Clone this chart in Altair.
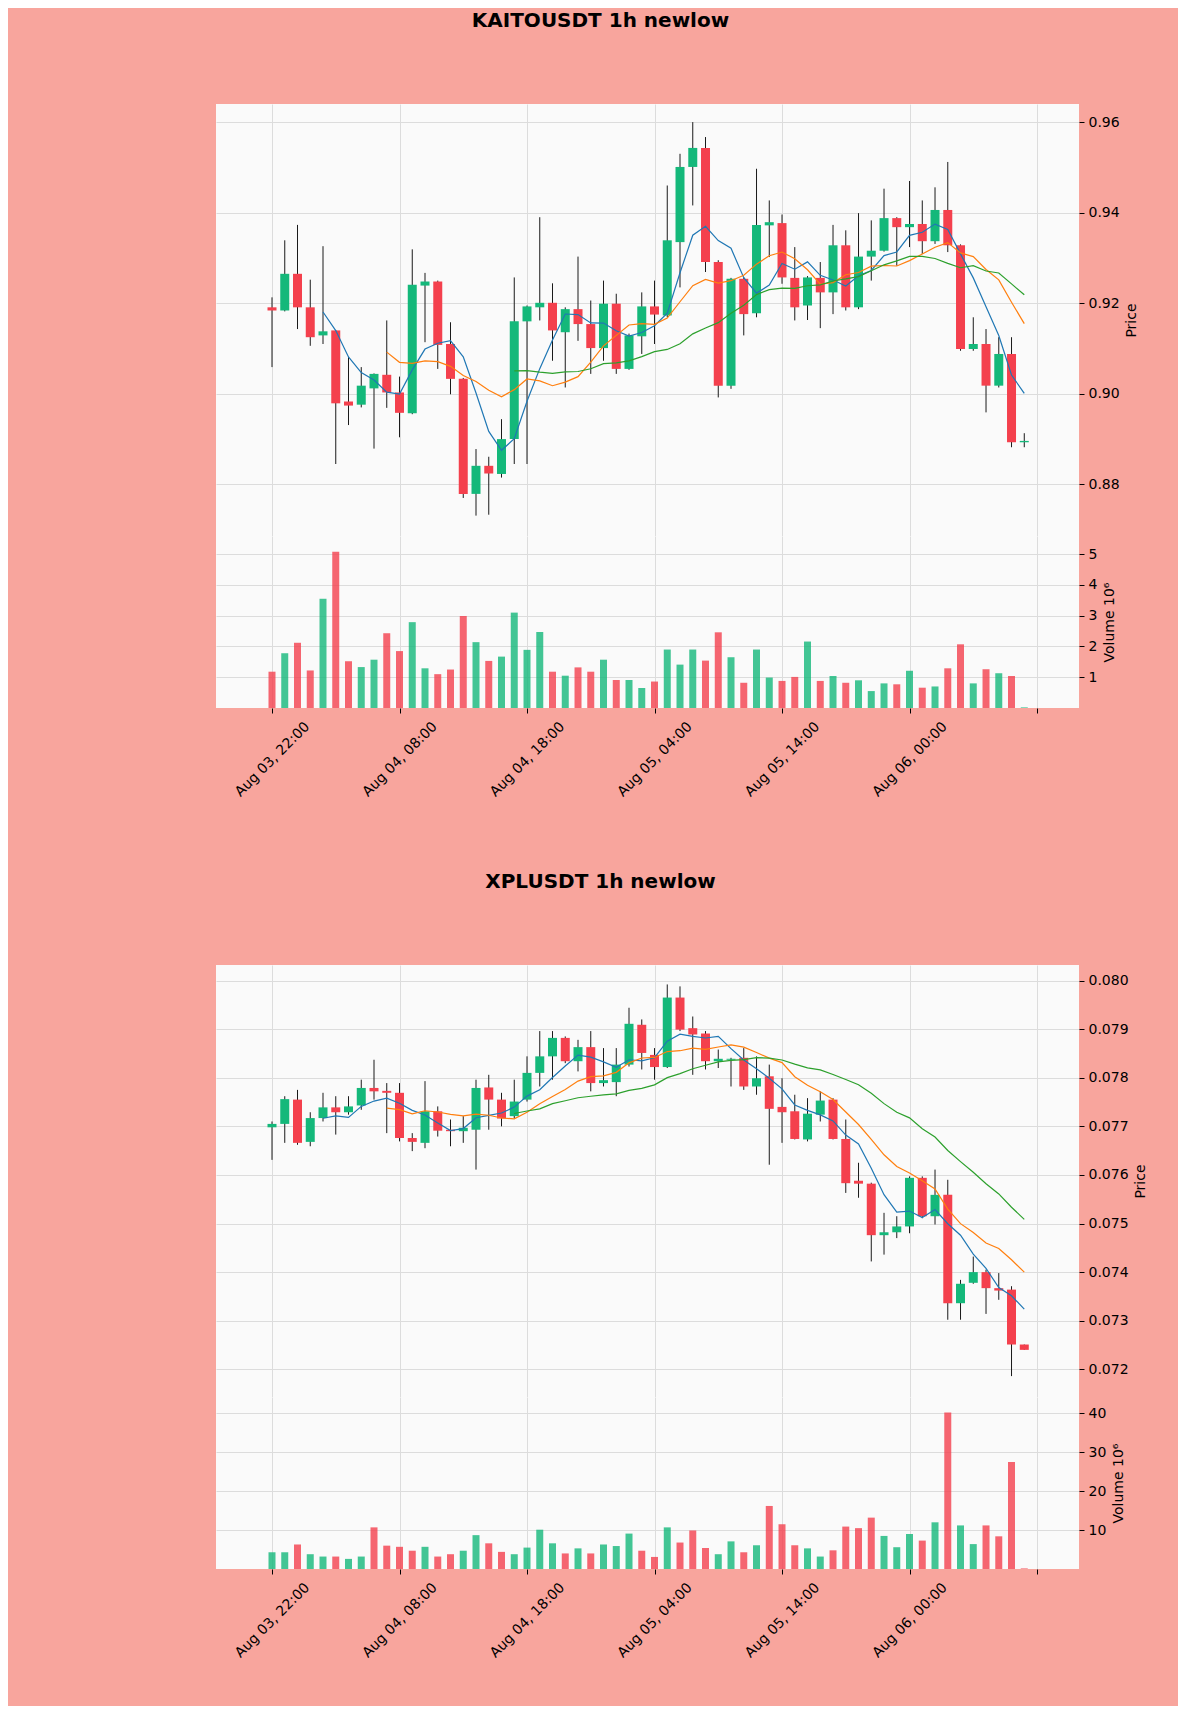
import altair as alt
import pandas as pd

# ---------------- data ----------------
tick_pos = [0, 10, 20, 30, 40, 50, 60]
tick_labels = ["Aug 03, 22:00", "Aug 04, 08:00", "Aug 04, 18:00",
               "Aug 05, 04:00", "Aug 05, 14:00", "Aug 06, 00:00", ""]

kaito_open = [0.9191, 0.9184, 0.9265, 0.9191, 0.9129, 0.9140, 0.8983, 0.8976, 0.9012, 0.9042,
              0.9003, 0.8957, 0.9239, 0.9248, 0.9110, 0.9033, 0.8779, 0.8841, 0.8823, 0.8900,
              0.9160, 0.9191, 0.9201, 0.9136, 0.9187, 0.9154, 0.9101, 0.9199, 0.9055, 0.9127,
              0.9193, 0.9173, 0.9335, 0.9501, 0.9543, 0.9291, 0.9018, 0.9254, 0.9178, 0.9372,
              0.9377, 0.9256, 0.9195, 0.9256, 0.9224, 0.9328, 0.9191, 0.9303, 0.9316, 0.9388,
              0.9368, 0.9375, 0.9337, 0.9406, 0.9328, 0.9099, 0.9110, 0.9018, 0.9088, 0.8893]
kaito_high = [0.9213, 0.9339, 0.9373, 0.9252, 0.9326, 0.9141, 0.9081, 0.9059, 0.9045, 0.9162,
              0.9038, 0.9319, 0.9267, 0.9250, 0.9158, 0.9035, 0.8878, 0.8861, 0.8944, 0.9257,
              0.9195, 0.9390, 0.9244, 0.9191, 0.9303, 0.9206, 0.9250, 0.9221, 0.9133, 0.9224,
              0.9250, 0.9460, 0.9530, 0.9600, 0.9567, 0.9295, 0.9256, 0.9257, 0.9497, 0.9427,
              0.9396, 0.9324, 0.9260, 0.9291, 0.9373, 0.9361, 0.9399, 0.9383, 0.9453, 0.9390,
              0.9470, 0.9427, 0.9456, 0.9512, 0.9330, 0.9169, 0.9143, 0.9125, 0.9125, 0.8913]
kaito_low = [0.9059, 0.9182, 0.9143, 0.9106, 0.9110, 0.8845, 0.8931, 0.8970, 0.8879, 0.8969,
             0.8904, 0.8955, 0.9114, 0.9055, 0.8999, 0.8770, 0.8731, 0.8733, 0.8815, 0.8845,
             0.8845, 0.9162, 0.9073, 0.9014, 0.9117, 0.9044, 0.9073, 0.9044, 0.9053, 0.9088,
             0.9110, 0.9169, 0.9235, 0.9416, 0.9269, 0.8992, 0.9011, 0.9129, 0.9169, 0.9302,
             0.9243, 0.9162, 0.9163, 0.9145, 0.9176, 0.9184, 0.9187, 0.9250, 0.9314, 0.9283,
             0.9324, 0.9309, 0.9331, 0.9313, 0.9095, 0.9095, 0.8959, 0.9014, 0.8882, 0.8882]
kaito_close = [0.9184, 0.9265, 0.9191, 0.9125, 0.9138, 0.8979, 0.8974, 0.9018, 0.9044, 0.9003,
               0.8958, 0.9241, 0.9248, 0.9108, 0.9033, 0.8779, 0.8841, 0.8824, 0.8900, 0.9160,
               0.9193, 0.9201, 0.9140, 0.9187, 0.9154, 0.9101, 0.9199, 0.9055, 0.9129, 0.9193,
               0.9175, 0.9339, 0.9501, 0.9543, 0.9291, 0.9018, 0.9254, 0.9176, 0.9373, 0.9379,
               0.9257, 0.9191, 0.9257, 0.9224, 0.9328, 0.9191, 0.9303, 0.9316, 0.9388, 0.9368,
               0.9375, 0.9337, 0.9406, 0.9328, 0.9099, 0.9110, 0.9018, 0.9088, 0.8893, 0.8896]
kaito_volume = [1.18, 1.78, 2.12, 1.22, 3.55, 5.08, 1.52, 1.33, 1.57, 2.43,
                1.85, 2.79, 1.29, 1.10, 1.25, 2.99, 2.14, 1.53, 1.67, 3.10,
                1.89, 2.47, 1.18, 1.05, 1.32, 1.18, 1.57, 0.91, 0.91, 0.65,
                0.86, 1.90, 1.41, 1.90, 1.54, 2.46, 1.65, 0.82, 1.90, 0.99,
                0.88, 1.01, 2.16, 0.88, 1.04, 0.82, 0.90, 0.55, 0.80, 0.77,
                1.21, 0.66, 0.70, 1.29, 2.07, 0.80, 1.26, 1.13, 1.04, 0.02]

xpl_open = [0.07698, 0.07705, 0.07755, 0.07668, 0.07717, 0.07739, 0.07729, 0.07743, 0.07779, 0.07773,
            0.07769, 0.07676, 0.07666, 0.07731, 0.07693, 0.07690, 0.07693, 0.07780, 0.07755, 0.07721,
            0.07755, 0.07810, 0.07844, 0.07882, 0.07834, 0.07863, 0.07789, 0.07791, 0.07827, 0.07909,
            0.07847, 0.07822, 0.07965, 0.07902, 0.07891, 0.07834, 0.07837, 0.07841, 0.07782, 0.07803,
            0.07740, 0.07731, 0.07673, 0.07724, 0.07755, 0.07674, 0.07588, 0.07582, 0.07476, 0.07482,
            0.07494, 0.07594, 0.07515, 0.07559, 0.07336, 0.07378, 0.07400, 0.07367, 0.07364, 0.07251]
xpl_high = [0.07710, 0.07762, 0.07775, 0.07729, 0.07769, 0.07762, 0.07762, 0.07796, 0.07837, 0.07789,
            0.07789, 0.07686, 0.07793, 0.07741, 0.07714, 0.07721, 0.07796, 0.07806, 0.07769, 0.07796,
            0.07844, 0.07896, 0.07896, 0.07885, 0.07878, 0.07896, 0.07861, 0.07861, 0.07944, 0.07920,
            0.07861, 0.07992, 0.07988, 0.07926, 0.07896, 0.07858, 0.07841, 0.07861, 0.07844, 0.07827,
            0.07799, 0.07765, 0.07758, 0.07772, 0.07758, 0.07714, 0.07625, 0.07584, 0.07522, 0.07515,
            0.07597, 0.07597, 0.07611, 0.07590, 0.07384, 0.07432, 0.07405, 0.07398, 0.07371, 0.07251]
xpl_low = [0.07631, 0.07666, 0.07662, 0.07659, 0.07710, 0.07683, 0.07724, 0.07734, 0.07755, 0.07686,
           0.07669, 0.07649, 0.07655, 0.07679, 0.07659, 0.07666, 0.07611, 0.07693, 0.07700, 0.07717,
           0.07751, 0.07782, 0.07796, 0.07830, 0.07813, 0.07772, 0.07782, 0.07762, 0.07823, 0.07817,
           0.07796, 0.07820, 0.07896, 0.07806, 0.07817, 0.07820, 0.07782, 0.07775, 0.07765, 0.07621,
           0.07666, 0.07673, 0.07669, 0.07710, 0.07673, 0.07563, 0.07553, 0.07422, 0.07436, 0.07470,
           0.07480, 0.07511, 0.07498, 0.07302, 0.07302, 0.07376, 0.07314, 0.07343, 0.07186, 0.07240]
xpl_close = [0.07705, 0.07756, 0.07666, 0.07717, 0.07739, 0.07729, 0.07741, 0.07779, 0.07772, 0.07769,
             0.07676, 0.07668, 0.07731, 0.07691, 0.07690, 0.07697, 0.07779, 0.07755, 0.07716, 0.07751,
             0.07810, 0.07844, 0.07882, 0.07834, 0.07863, 0.07789, 0.07795, 0.07827, 0.07911, 0.07851,
             0.07822, 0.07965, 0.07899, 0.07889, 0.07834, 0.07839, 0.07839, 0.07782, 0.07799, 0.07736,
             0.07729, 0.07674, 0.07726, 0.07753, 0.07674, 0.07583, 0.07582, 0.07476, 0.07482, 0.07494,
             0.07594, 0.07515, 0.07559, 0.07336, 0.07376, 0.07400, 0.07367, 0.07362, 0.07251, 0.07240]
xpl_volume = [4.3, 4.3, 6.3, 3.8, 3.2, 3.2, 2.6, 3.2, 10.7, 6.0,
              5.7, 4.7, 5.7, 3.2, 3.8, 4.7, 8.7, 6.6, 4.4, 3.8,
              5.5, 10.1, 6.6, 4.0, 5.3, 4.0, 6.3, 5.9, 9.1, 4.7,
              3.1, 10.7, 6.8, 9.9, 5.4, 3.8, 7.1, 4.3, 6.1, 16.2,
              11.5, 6.1, 5.3, 3.2, 4.8, 10.9, 10.5, 13.2, 8.5, 5.6,
              9.0, 7.3, 12.0, 40.2, 11.2, 6.4, 11.2, 8.4, 27.5, 0.15]

# ---------------- style ----------------
BG = "#F8A59D"
PLOT_BG = "#FAFAFA"
UP = "#14B87A"
DOWN = "#F4404D"
MA_COLORS = {5: "#1f77b4", 10: "#ff7f0e", 20: "#2ca02c"}
FONT = "DejaVu Sans"
PLOT_W = 863
PRICE_H = 432
VOL_H = 172
X_DOMAIN = [-4.0, 62.9]

label_expr = "''"
for p, lab in reversed(list(zip(tick_pos, tick_labels))):
    label_expr = f"datum.value == {p} ? '{lab}' : ({label_expr})"


def make_panel(title, o, h, l, c, v, price_dom, price_vals, price_fmt, vol_dom, vol_vals):
    df = pd.DataFrame({"i": list(range(len(o))), "open": o, "high": h,
                       "low": l, "close": c, "volume": v})
    df["dir"] = ["up" if cc >= oo else "down" for oo, cc in zip(o, c)]
    base = alt.Chart(df)

    xs = alt.Scale(domain=X_DOMAIN, nice=False, zero=False)
    x_price_axis = alt.Axis(values=tick_pos, labels=False, ticks=False, domain=False,
                            grid=True, title=None)
    ys = alt.Scale(domain=price_dom, nice=False, zero=False)
    y_axis = alt.Axis(orient="right", values=price_vals, format=price_fmt, title="Price",
                      grid=True, titleAngle=270, titleBaseline="top", titlePadding=5)
    color = alt.Color("dir:N", scale=alt.Scale(domain=["up", "down"], range=[UP, DOWN]),
                      legend=None)

    wick = base.mark_rule(color="#1a1a1a", strokeWidth=1).encode(
        x=alt.X("i:Q", scale=xs, axis=x_price_axis),
        y=alt.Y("low:Q", scale=ys, axis=y_axis),
        y2="high:Q",
    )
    body = base.mark_bar(size=9, strokeWidth=0).encode(
        x=alt.X("i:Q", scale=xs, axis=x_price_axis),
        y=alt.Y("open:Q", scale=ys, axis=y_axis),
        y2="close:Q",
        color=color,
    )
    layers = [wick, body]
    for k in (5, 10, 20):
        line = base.transform_window(
            ma="mean(close)", cnt="count()", frame=[-(k - 1), 0], sort=[{"field": "i"}]
        ).transform_filter(f"datum.cnt >= {k}").mark_line(
            color=MA_COLORS[k], strokeWidth=1.2
        ).encode(
            x=alt.X("i:Q", scale=xs, axis=x_price_axis),
            y=alt.Y("ma:Q", scale=ys, axis=y_axis),
        )
        layers.append(line)

    price = alt.layer(*layers).properties(
        width=PLOT_W, height=PRICE_H,
        title=alt.TitleParams(text=title, anchor="middle", frame="group", dx=-47,
                              offset=73, fontSize=20, font=FONT, fontWeight="bold",
                              color="black"),
    )

    vol = base.mark_bar(size=7, opacity=0.8, strokeWidth=0).encode(
        x=alt.X("i:Q", scale=xs,
                axis=alt.Axis(values=tick_pos, labelExpr=label_expr, labelAngle=315,
                              labelAlign="center", labelBaseline="middle",
                              labelPadding=46, labelOverlap=False, labelBound=False,
                              labelFlush=False, grid=True, domain=False, title=None)),
        y=alt.Y("volume:Q", scale=alt.Scale(domain=vol_dom, nice=False),
                axis=alt.Axis(orient="right", values=vol_vals, format="d",
                              title="Volume  10\u2076", grid=True, titleAngle=270,
                              titleBaseline="top", titlePadding=6)),
        color=color,
    ).properties(width=PLOT_W, height=VOL_H)

    return alt.vconcat(price, vol, spacing=0)


panel1 = make_panel("KAITOUSDT 1h newlow", kaito_open, kaito_high, kaito_low, kaito_close,
                    kaito_volume, [0.8686, 0.9640], [0.88, 0.90, 0.92, 0.94, 0.96], ".2f",
                    [0, 5.59], [1, 2, 3, 4, 5])
panel2 = make_panel("XPLUSDT 1h newlow", xpl_open, xpl_high, xpl_low, xpl_close,
                    xpl_volume, [0.07143, 0.08032],
                    [0.072, 0.073, 0.074, 0.075, 0.076, 0.077, 0.078, 0.079, 0.080], ".3f",
                    [0, 44.2], [10, 20, 30, 40])

chart = alt.vconcat(panel1, panel2, spacing=73).properties(
    padding={"left": 208, "top": 3, "right": 30, "bottom": 46}
).configure(
    background=BG, font=FONT
).configure_view(
    fill=PLOT_BG, strokeWidth=0
).configure_axis(
    labelFont=FONT, labelFontSize=14, labelColor="black",
    titleFont=FONT, titleFontSize=14, titleColor="black", titleFontWeight="normal",
    tickColor="black", tickSize=5, tickWidth=1, labelPadding=4,
    domain=False, gridColor="#DCDCDC", gridWidth=1,
).configure_concat(spacing=0)

chart.save("out.html", embed_options={"renderer": "svg", "actions": False})
